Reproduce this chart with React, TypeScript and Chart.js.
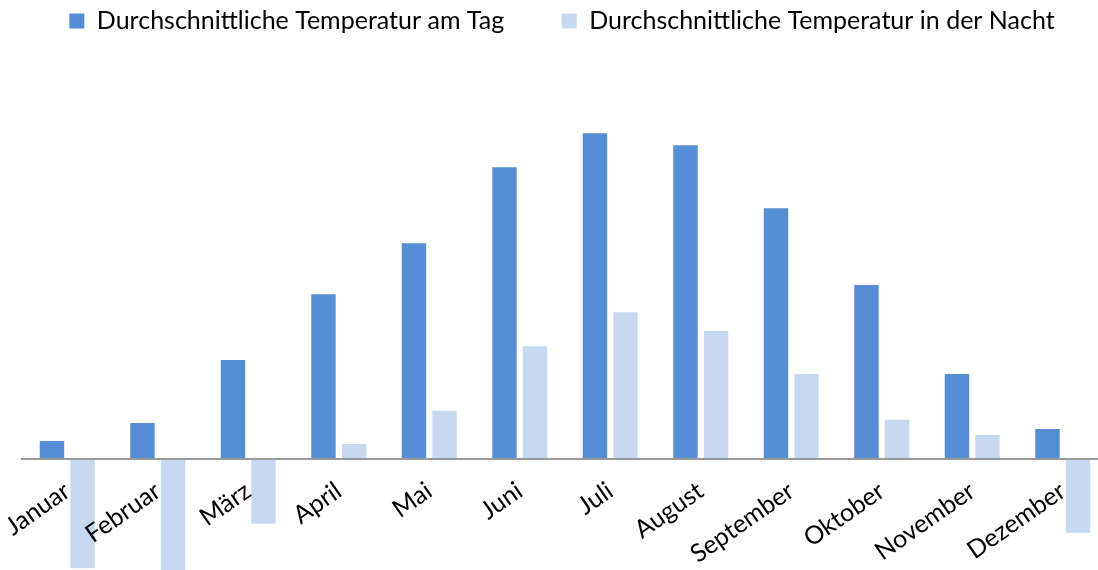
import { useEffect, useRef } from "react";
import { Chart, registerables } from "chart.js";

Chart.register(...registerables);

const months = [
  "Januar", "Februar", "März", "April", "Mai", "Juni",
  "Juli", "August", "September", "Oktober", "November", "Dezember",
];
const seriesNames = [
  "Durchschnittliche Temperatur am Tag",
  "Durchschnittliche Temperatur in der Nacht",
];
const dayTemps = [1.66, 3.32, 9.12, 15.17, 19.87, 26.87, 30.0, 28.89, 23.09, 16.03, 7.83, 2.76];
const nightTemps = [-10.07, -10.3, -5.96, 1.38, 4.45, 10.38, 13.51, 11.79, 7.83, 3.62, 2.21, -6.79];
const yRange = [-10.22, 38.27];

const FONT = "Lato";

export default function App() {
  const ref = useRef<HTMLCanvasElement | null>(null);

  useEffect(() => {
    if (!ref.current) return;
    const chart = new Chart(ref.current, {
      type: "bar",
      data: {
        labels: months,
        datasets: [
          {
            label: seriesNames[0],
            data: dayTemps,
            backgroundColor: "#558ED5",
            borderWidth: 0,
            categoryPercentage: 0.675,
            barPercentage: 0.8,
          },
          {
            label: seriesNames[1],
            data: nightTemps,
            backgroundColor: "#C6D9F1",
            borderWidth: 0,
            categoryPercentage: 0.675,
            barPercentage: 0.8,
          },
        ],
      },
      options: {
        animation: false,
        responsive: true,
        maintainAspectRatio: false,
        layout: { padding: { top: -49, left: 0, right: 0, bottom: 0 } },
        plugins: {
          tooltip: { enabled: false },
          legend: {
            position: "top",
            labels: {
              font: { family: FONT, size: 25 },
              color: "#000000",
              boxWidth: 15,
              boxHeight: 15,
              padding: 57.5,
            },
          },
        },
        scales: {
          x: {
            position: { y: 0 },
            grid: { display: false, drawTicks: false },
            border: { display: true, color: "#999999", width: 2, z: 1 },
            afterFit: (scale: any) => {
              scale.paddingLeft = 22;
              scale.paddingRight = 16;
            },
            ticks: {
              z: 1,
              autoSkip: false,
              maxRotation: 35,
              minRotation: 35,
              padding: 17,
              labelOffset: 0,
              color: "#000000",
              font: { family: FONT, size: 25 },
            },
          },
          y: {
            display: false,
            min: yRange[0],
            max: yRange[1],
          },
        },
      },
    });
    return () => chart.destroy();
  }, []);

  return (
    <div style={{ position: "fixed", left: 0, top: 0, width: 1098, height: 570, overflow: "hidden", background: "#fff" }}>
      <div style={{ position: "relative", width: 1124, height: 570 }}>
        <canvas ref={ref} style={{ display: "block" }} />
      </div>
    </div>
  );
}
